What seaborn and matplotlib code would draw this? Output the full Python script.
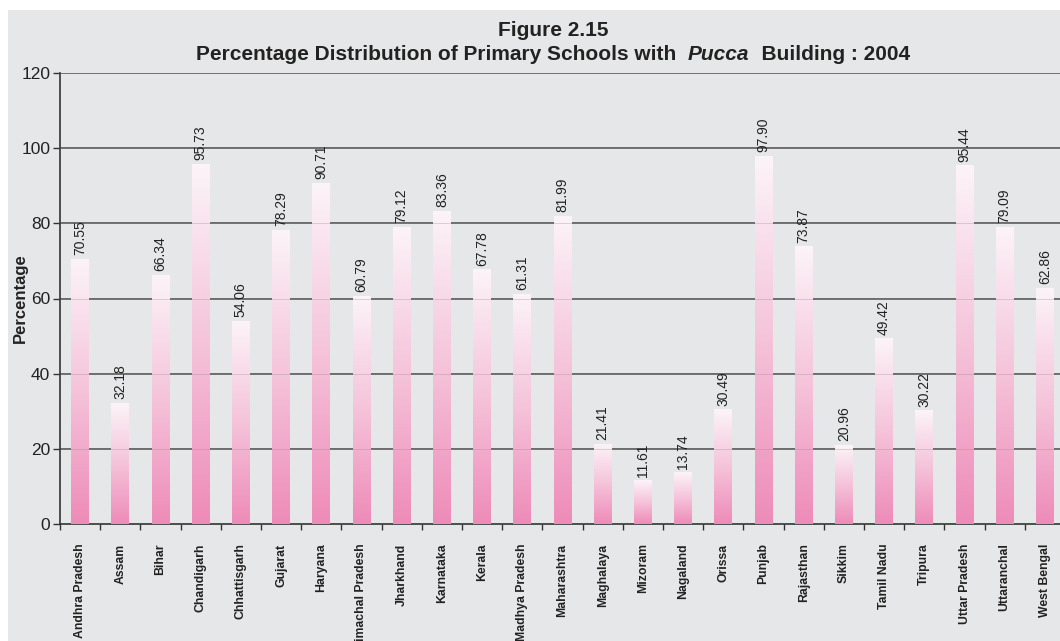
import numpy as np
import pandas as pd
import matplotlib
matplotlib.use('Agg')
import matplotlib.pyplot as plt
from matplotlib.colors import LinearSegmentedColormap
from matplotlib.patches import Rectangle
import seaborn as sns

# data
states = ['Andhra Pradesh', 'Assam', 'Bihar', 'Chandigarh', 'Chhattisgarh', 'Gujarat',
          'Haryana', 'Himachal Pradesh', 'Jharkhand', 'Karnataka', 'Kerala',
          'Madhya Pradesh', 'Maharashtra', 'Maghalaya', 'Mizoram', 'Nagaland',
          'Orissa', 'Punjab', 'Rajasthan', 'Sikkim', 'Tamil Nadu', 'Tripura',
          'Uttar Pradesh', 'Uttaranchal', 'West Bengal']
pucca = [70.55, 32.18, 66.34, 95.73, 54.06, 78.29, 90.71, 60.79, 79.12, 83.36, 67.78,
         61.31, 81.99, 21.41, 11.61, 13.74, 30.49, 97.90, 73.87, 20.96, 49.42, 30.22,
         95.44, 79.09, 62.86]
y_ticks = [0, 20, 40, 60, 80, 100, 120]

df = pd.DataFrame({'state': states, 'pct': pucca})

sns.set_theme(style='white')
plt.rcParams['font.family'] = ['Liberation Sans', 'DejaVu Sans']

panel = '#e6e7e9'
ink = '#222222'
fig = plt.figure(figsize=(10.6, 6.41), dpi=100)
fig.patch.set_facecolor('white')
fig.patches.append(Rectangle((8 / 1060, 0), 1, 1 - 10 / 641, transform=fig.transFigure,
                             facecolor=panel, edgecolor='none', zorder=-10))

step = 40.2
left = 60
ax = fig.add_axes([left / 1060, 1 - 524 / 641, len(states) * step / 1060, 451 / 641])
ax.set_facecolor('none')

sns.barplot(data=df, x='state', y='pct', ax=ax, width=0.44, color='#ee8fba',
            saturation=1, zorder=3, edgecolor='none', linewidth=0)

# pink-to-white gradient inside each bar
cmap = LinearSegmentedColormap.from_list('pk', ['#ee8bb8', '#f5c3da', '#fcf4f8'])
grad = np.linspace(0, 1, 256).reshape(-1, 1)
for p in ax.patches:
    x0, y0 = p.get_x(), p.get_y()
    w, h = p.get_width(), p.get_height()
    im = ax.imshow(grad, cmap=cmap, origin='lower', aspect='auto',
                   extent=[x0, x0 + w, y0, y0 + h], zorder=3)
    im.set_clip_path(p)
    p.set_facecolor('none')
    p.set_edgecolor('none')
    ax.text(x0 + w / 2, h + 1.0, f'{h:.2f}', rotation=90, ha='center', va='bottom',
            fontsize=10, color=ink, zorder=4)

ax.set_xlim(-0.5, len(states) - 0.5)
ax.set_ylim(0, 120)
ax.set_yticks(y_ticks)
ax.set_yticklabels([str(v) for v in y_ticks], fontsize=12.5, color=ink)
for v in y_ticks[1:]:
    ax.axhline(v, color='#555555', lw=1.2, zorder=1)
    ax.axhline(v, color='#888888', lw=0.6, alpha=0.35, zorder=3.5)

ax.set_xticks(range(len(states)))
ax.set_xticklabels(states, rotation=90, fontsize=8.8, fontweight='bold', va='top', color=ink)
ax.set_xticks(np.arange(-0.5, len(states), 1), minor=True)
ax.tick_params(axis='x', which='major', length=0, pad=14)
ax.tick_params(axis='x', which='minor', length=4, width=1, color='#333333', direction='out',
               bottom=True)
ax.tick_params(axis='y', length=5, width=1, color='#333333', direction='out', left=True, pad=2)

for s in ['top', 'right']:
    ax.spines[s].set_visible(False)
for s in ['left', 'bottom']:
    ax.spines[s].set_color('#333333')
    ax.spines[s].set_linewidth(1.2)
ax.set_xlabel('')
ax.set_ylabel('Percentage', fontsize=12, fontweight='bold', color=ink, va='center')
ax.yaxis.set_label_coords((20 - left) / (len(states) * step), 0.5)

fig.text(553 / 1060, 1 - 30 / 641, 'Figure 2.15', ha='center', va='center',
         fontsize=15, fontweight='bold', color=ink)

# second title line, with the italic word set in between
parts = [('Percentage Distribution of Primary Schools with  ', 'normal'),
         ('Pucca', 'italic'),
         ('  Building : 2004', 'normal')]
renderer = fig.canvas.get_renderer()
pieces = []
for txt, style in parts:
    t = fig.text(0, 1 - 54 / 641, txt, ha='left', va='center', fontsize=15,
                 fontweight='bold', style=style, color=ink)
    pieces.append(t)
widths = [t.get_window_extent(renderer).width for t in pieces]
x = 553 - sum(widths) / 2
for t, w in zip(pieces, widths):
    t.set_x(x / 1060)
    x += w

fig.savefig('out.png', dpi=100)
